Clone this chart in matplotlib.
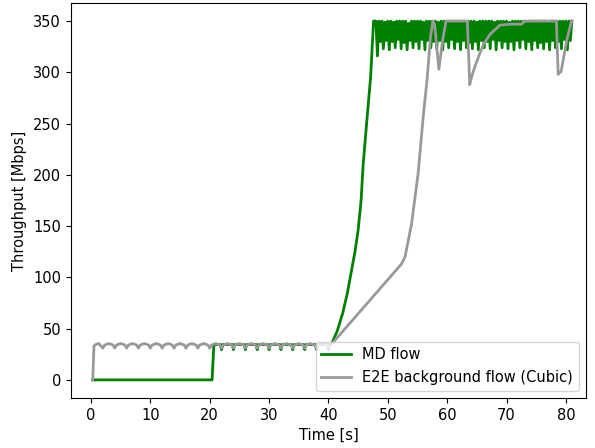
import numpy as np
import matplotlib
matplotlib.use("Agg")
import matplotlib.pyplot as plt

# ---------------- data ----------------
# MD flow
md_start_t = [0.3, 20.4, 20.7]
md_start_v = [0.0, 0.0, 34.5]
md_mid_t = [21.8, 22.0, 22.2, 23.8, 24.0, 24.2, 25.8, 26.0, 26.2, 27.8, 28.0, 28.2,
            29.8, 30.0, 30.2, 31.8, 32.0, 32.2, 33.8, 34.0, 34.2, 35.8, 36.0, 36.2,
            37.8, 38.0, 38.2, 39.8, 40.0, 40.2]
md_mid_v = [34.5, 29.5, 34.5, 34.5, 29.5, 34.5, 34.5, 29.5, 34.5, 34.5, 29.5, 34.5,
            34.5, 29.5, 34.5, 34.5, 29.5, 34.5, 34.5, 29.5, 34.5, 34.5, 29.5, 34.5,
            34.5, 29.5, 34.5, 34.5, 29.5, 34.5]
md_rise_t = [40.6, 41.5, 42.4, 43.2, 43.9, 44.5, 45.0, 45.5, 45.85, 46.5, 47.1, 47.6]
md_rise_v = [36, 48, 65, 85, 107, 126, 146, 175, 210, 255, 295, 350]
md_top_t = list(np.round(np.arange(48.0, 81.01, 0.25), 2))
md_top_v = [
    350, 316, 350, 330, 350, 323, 349, 331,
    350, 322, 350, 330, 349, 324, 350, 332,
    350, 323, 350, 329, 350, 322, 348, 331,
    350, 324, 350, 330, 350, 323, 350, 332,
    349, 322, 350, 331, 350, 324, 350, 330,
    350, 323, 349, 331, 350, 322, 350, 330,
    350, 324, 350, 332, 350, 323, 349, 330,
    350, 322, 350, 331, 350, 324, 350, 329,
    350, 323, 350, 330, 349, 322, 350, 331,
    350, 324, 350, 330, 350, 323, 350, 332,
    349, 322, 350, 331, 350, 324, 350, 330,
    350, 323, 349, 330, 350, 322, 350, 331,
    350, 324, 350, 332, 350, 323, 349, 330,
    350, 322, 350, 331, 350, 324, 350, 329,
    350, 323, 350, 330, 349, 322, 350, 331,
    350, 324, 350, 330, 350, 323, 350, 332,
    350, 322, 350, 331, 350,
]

# E2E background flow (Cubic)
bg_start_t = [0.3, 0.5, 0.8, 1.3]
bg_start_v = [0.0, 33.0, 34.5, 35.5]
bg_scallop_t = [2.0, 2.3, 3.0, 3.7, 4.0, 4.3, 5.0, 5.7, 6.0, 6.3, 7.0, 7.7,
                8.0, 8.3, 9.0, 9.7, 10.0, 10.3, 11.0, 11.7, 12.0, 12.3, 13.0, 13.7,
                14.0, 14.3, 15.0, 15.7, 16.0, 16.3, 17.0, 17.7, 18.0, 18.3, 19.0, 19.7,
                20.0, 20.3, 21.0, 21.7, 22.0, 22.3, 23.0, 23.7, 24.0, 24.3, 25.0, 25.7,
                26.0, 26.3, 27.0, 27.7, 28.0, 28.3, 29.0, 29.7, 30.0, 30.3, 31.0, 31.7,
                32.0, 32.3, 33.0, 33.7, 34.0, 34.3, 35.0, 35.7, 36.0, 36.3, 37.0, 37.7,
                38.0, 38.3, 39.0, 39.7, 40.0]
bg_scallop_v = [31.0, 34.0, 35.5, 34.0, 31.0, 34.0, 35.5, 34.0, 31.0, 34.0, 35.5, 34.0,
                31.0, 34.0, 35.5, 34.0, 31.0, 34.0, 35.5, 34.0, 31.0, 34.0, 35.5, 34.0,
                31.0, 34.0, 35.5, 34.0, 31.0, 34.0, 35.5, 34.0, 31.0, 34.0, 35.5, 34.0,
                31.0, 34.0, 35.5, 34.0, 31.0, 34.0, 35.5, 34.0, 31.0, 34.0, 35.5, 34.0,
                31.0, 34.0, 35.5, 34.0, 31.0, 34.0, 35.5, 34.0, 31.0, 34.0, 35.5, 34.0,
                31.0, 34.0, 35.5, 34.0, 31.0, 34.0, 35.5, 34.0, 31.0, 34.0, 35.5, 34.0,
                31.0, 34.0, 35.5, 34.0, 31.0]
bg_late_t = [40.4, 52.3, 52.9, 54.0, 55.1, 56.0, 56.6, 57.2, 57.6, 57.9, 58.6, 59.2, 59.8,
             63.4, 63.8, 64.1, 64.4, 65.2, 66.1, 67.2, 68.9, 70.8, 72.5, 73.1,
             78.4, 78.7, 79.2, 80.1, 80.9, 81.0]
bg_late_v = [34, 113, 120, 152, 201, 259, 292, 335, 350, 346, 303, 330, 350,
             350, 288, 295, 301, 314, 327, 337, 346, 347, 347, 350,
             350, 298, 301, 330, 349, 350]

md_t = md_start_t + md_mid_t + md_rise_t + md_top_t
md_v = md_start_v + md_mid_v + md_rise_v + md_top_v
bg_t = bg_start_t + bg_scallop_t + bg_late_t
bg_v = bg_start_v + bg_scallop_v + bg_late_v

x_ticks = [0, 10, 20, 30, 40, 50, 60, 70, 80]
y_ticks = [0, 50, 100, 150, 200, 250, 300, 350]

# ---------------- plot ----------------
plt.rcParams["font.size"] = 10.5
fig = plt.figure(figsize=(5.95, 4.48), dpi=100)
ax = fig.add_axes([0.119, 0.112, 0.866, 0.881])
ax.plot(md_t, md_v, color="green", lw=2, label="MD flow")
ax.plot(bg_t, bg_v, color="#999999", lw=2, label="E2E background flow (Cubic)")
ax.set_xlim(-3.4, 83.4)
ax.set_ylim(-17.5, 367.5)
ax.set_xticks(x_ticks)
ax.set_yticks(y_ticks)
ax.set_xlabel("Time [s]")
ax.set_ylabel("Throughput [Mbps]")
ax.legend(loc="lower right")
fig.savefig("out.png", dpi=100)
